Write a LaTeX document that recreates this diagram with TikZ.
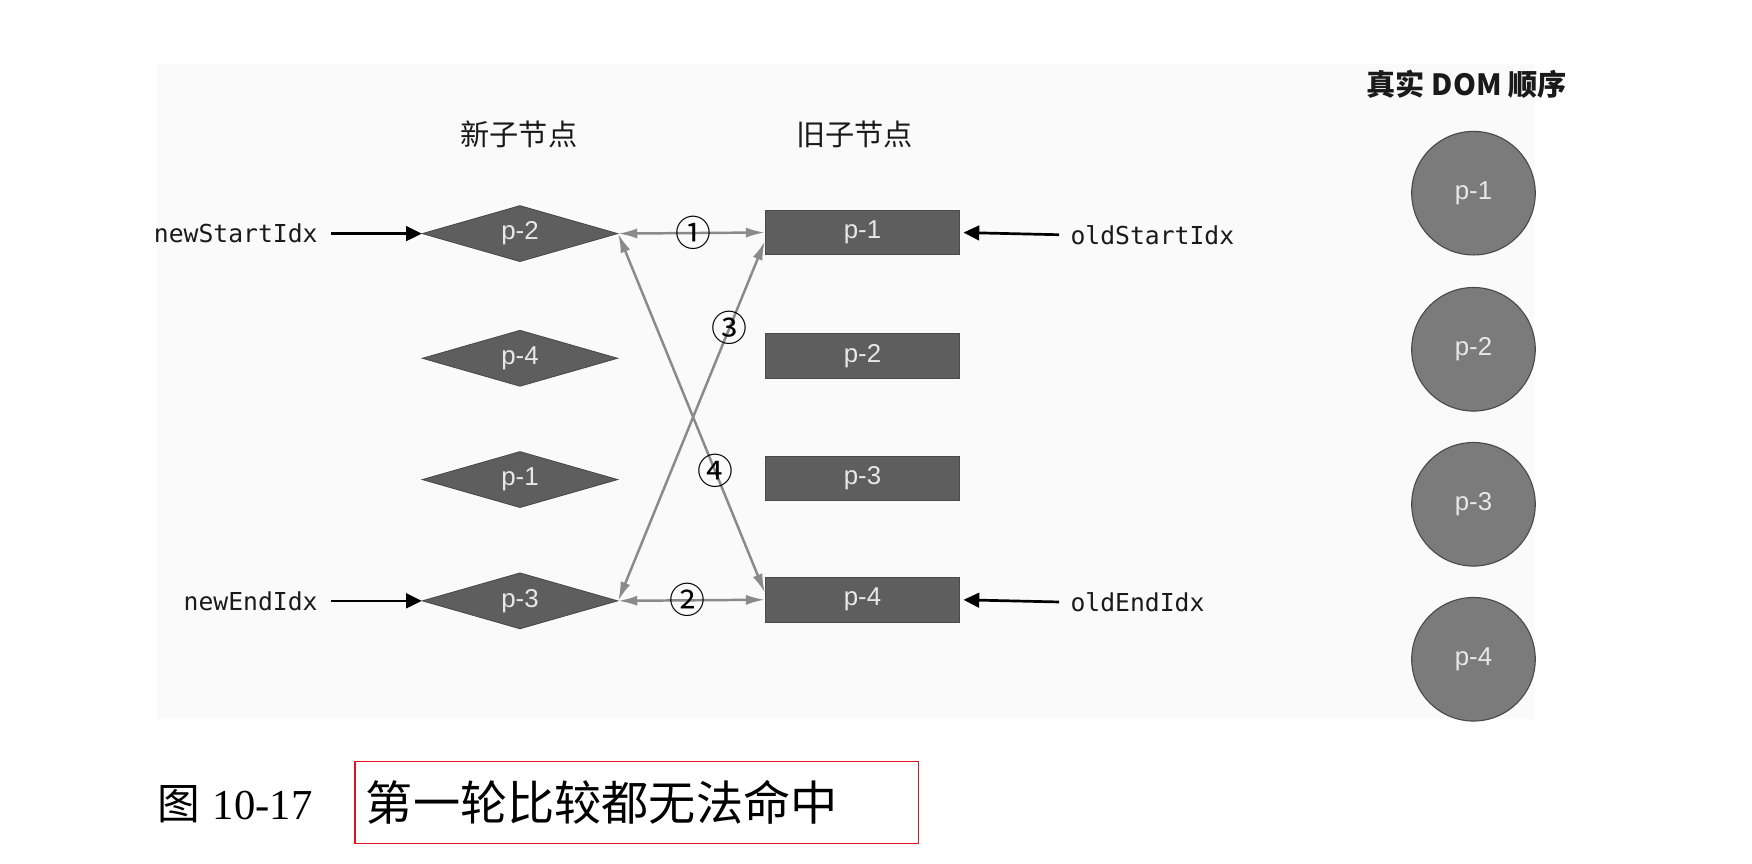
\documentclass[tikz,border=0pt]{standalone}
\usepackage{fontspec}
\setmainfont{Liberation Sans}
\newfontfamily\cjk{Noto Sans CJK SC}
\newfontfamily\monof{DejaVu Sans Mono}
\newfontfamily\serifnum{Liberation Serif}
\usetikzlibrary{shapes.geometric,arrows.meta}
\definecolor{bgc}{HTML}{FAFAFA}
\definecolor{nodefill}{HTML}{5E5E5E}
\definecolor{nodeline}{HTML}{4A4A4A}
\definecolor{circfill}{HTML}{7B7B7B}
\definecolor{linkc}{HTML}{8A8A8A}
\definecolor{labc}{HTML}{E8E8E8}
\definecolor{capred}{HTML}{E0141E}
\definecolor{txtc}{HTML}{1A1A1A}
\begin{document}
\begin{tikzpicture}[x=1pt,y=-1pt,
  plabel/.style={text=labc, font=\fontsize{23}{27}\selectfont},
  newnode/.style={diamond, aspect=3.5, fill=nodefill, draw=nodeline, line width=0.8pt,
    minimum width=174pt, minimum height=50pt, inner sep=0pt, plabel},
  oldnode/.style={rectangle, fill=nodefill, draw=nodeline, line width=0.8pt,
    minimum width=173pt, minimum height=40pt, inner sep=0pt, plabel},
  domnode/.style={circle, fill=circfill, draw=nodeline, line width=1pt,
    minimum size=110pt, inner sep=0pt, plabel},
  idxlabel/.style={text=txtc, font=\monof\fontsize{22}{26}\selectfont, inner ysep=2pt},
  hdr/.style={text=txtc, font=\cjk\fontsize{26}{30}\selectfont, inner sep=0pt},
  blackarrow/.style={draw=black, line width=2.4pt, -{Triangle[length=14pt,width=13pt]}},
  link/.style={draw=linkc, line width=2.2pt,
    {Latex[length=17pt,width=9pt]}-{Latex[length=17pt,width=9pt]}},
  circnum/.style={text=black, font=\cjk\fontsize{32}{36}\selectfont, inner sep=0pt},
  capbox/.style={draw=capred, line width=1.6pt, minimum height=73pt, text width=482pt,
    inner xsep=10pt, inner ysep=0pt, align=left, font=\cjk\fontsize{42}{48}\selectfont}
]
\useasboundingbox (0,0) rectangle (1560,769.3);
\fill[bgc] (140,57) rectangle (1366,640);

% headers
\node[hdr] (hnew) at (462,120) {新子节点};
\node[hdr] (hold) at (761,120) {旧子节点};
\node[hdr, font=\cjk\bfseries\fontsize{26}{30}\selectfont] (hdom) at (1306,75) {真实 DOM 顺序};

% new children (diamonds)
\node[newnode] (n2) at (463,208) {p-2};
\node[newnode] (n4) at (463,319) {p-4};
\node[newnode] (n1) at (463,427) {p-1};
\node[newnode] (n3) at (463,535) {p-3};

% old children (rectangles)
\node[oldnode] (o1) at (768,207) {p-1};
\node[oldnode] (o2) at (768,317) {p-2};
\node[oldnode] (o3) at (768,426) {p-3};
\node[oldnode] (o4) at (768,534) {p-4};

% real DOM (circles)
\node[domnode] (d1) at (1312,172) {p-1};
\node[domnode] (d2) at (1312,311) {p-2};
\node[domnode] (d3) at (1312,449) {p-3};
\node[domnode] (d4) at (1312,587) {p-4};

% index pointers
\node[idxlabel, anchor=east, inner xsep=12pt] (nsi) at (295,208) {newStartIdx};
\node[idxlabel, anchor=east, inner xsep=12pt] (nei) at (295,535) {newEndIdx};
\node[idxlabel, anchor=west, inner xsep=10pt] (osi) at (943,209) {oldStartIdx};
\node[idxlabel, anchor=west, inner xsep=10pt] (oei) at (943,536) {oldEndIdx};

\draw[blackarrow] (nsi.east) -- (n2.west);
\draw[blackarrow] (nei.east) -- (n3.west);
\draw[blackarrow, shorten >=3pt] (osi.west) -- (o1.east);
\draw[blackarrow, shorten >=3pt] (oei.west) -- (o4.east);

% comparisons
\draw[link] (n2.east) -- node[circnum, pos=0.51] (c1) {①} (o1.west);
\draw[link] (n3.east) -- node[circnum, pos=0.47] (c2) {②} (o4.west);
\draw[link] (n3.east) -- node[circnum, pos=0.76] (c3) {③} (o1.185);
\draw[link] (n2.east) -- node[circnum, pos=0.66] (c4) {④} (o4.176);

% caption
\node[anchor=west, inner sep=0pt, text=black] (capnum) at (140,716)
  {\cjk\fontsize{38}{44}\selectfont 图\hspace{0.3em}\serifnum 10-17};
\node[capbox, anchor=west] (captxt) at (315,714.5) {第一轮比较都无法命中};
\end{tikzpicture}
\end{document}
